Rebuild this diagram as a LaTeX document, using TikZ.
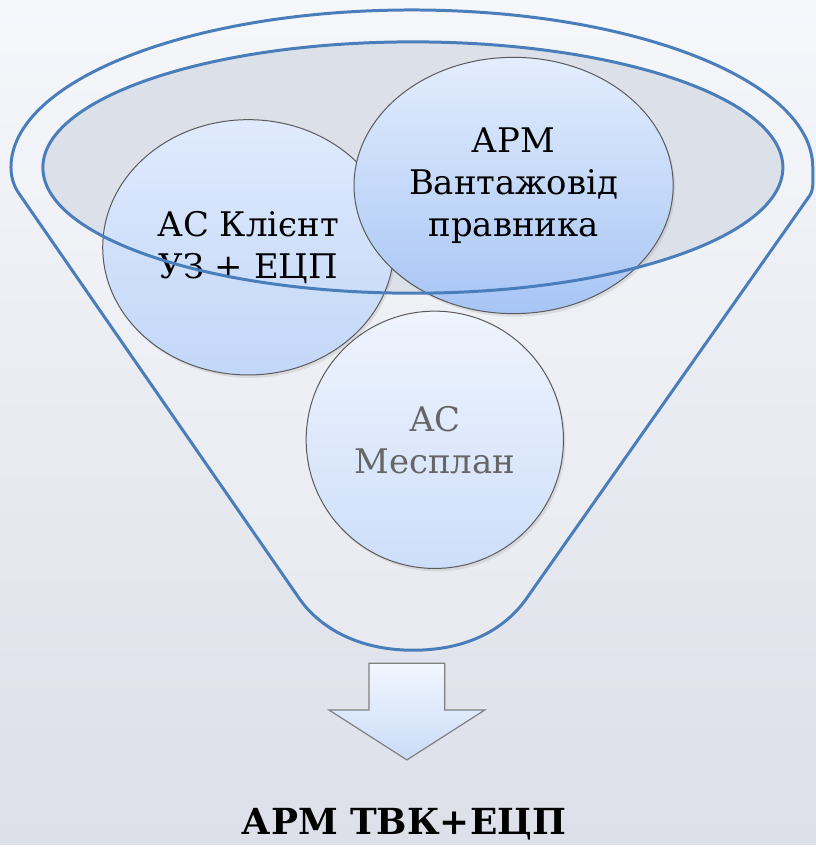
\documentclass[tikz,border=0pt]{standalone}
\usepackage{fontspec}
\newfontfamily\timesface{DejaVu Serif}
\usepackage{xcolor}
\usepackage{tikz}
\usetikzlibrary{shapes.geometric,shadows}

\definecolor{funnelblue}{HTML}{4A7EBB}
\definecolor{bgtop}{HTML}{F5F7FB}
\definecolor{bgbot}{HTML}{DDDFE9}
\definecolor{bodytop}{HTML}{F5F6FA}
\definecolor{bodybot}{HTML}{E8EAF0}
\definecolor{rimfill}{HTML}{DCE0E9}
\definecolor{bubbleline}{HTML}{5A5A5A}
\definecolor{greytext}{HTML}{666666}
\definecolor{cargotop}{HTML}{E3EDFD}
\definecolor{cargobot}{HTML}{A7C5F5}
\definecolor{clienttop}{HTML}{DFEAFD}
\definecolor{clientbot}{HTML}{C3D7F8}
\definecolor{mesplantop}{HTML}{EFF4FD}
\definecolor{mesplanbot}{HTML}{CDDEFA}
\definecolor{arrowtop}{HTML}{F2F6FE}
\definecolor{arrowbot}{HTML}{CADCF8}

\begin{document}
\begin{tikzpicture}[
        x=0.5pt,y=0.5pt,
        funnel line/.style={draw=funnelblue,line width=1.5pt},
        bubble/.style={ellipse,draw=bubbleline,line width=0.5pt,align=center,inner sep=0pt,
            font=\timesface\fontsize{17}{21}\selectfont,
            drop shadow={opacity=0.18,shadow xshift=1pt,shadow yshift=-1.5pt}},
        downarrow/.style={draw=gray,line width=0.6pt,top color=arrowtop,bottom color=arrowbot}
    ]
        % background, also fixes the page size
        \fill[top color=bgtop,bottom color=bgbot] (0,0) rectangle (818,847);

        % funnel body
        \path[funnel line,top color=bodytop,bottom color=bodybot]
            (11,679) .. controls (11,668) and (14.8,659) .. (19,653)
            -- (300,247) .. controls (320.8,217) and (360,195) .. (414,195)
            .. controls (470,195) and (506.9,217) .. (528,247)
            -- (812,651) .. controls (816.2,657) and (815,668) .. (815,679)
            arc[start angle=0,end angle=180,x radius=402,y radius=158] -- cycle;
        \fill[rimfill] (414,679) ellipse [x radius=371,y radius=126];

        % the three systems
        \node[bubble,minimum width=129pt,minimum height=129pt,text=greytext,
            top color=mesplantop,bottom color=mesplanbot] (mesplan) at (436,406) {АС\\Месплан};
        \node[bubble,minimum width=146pt,minimum height=128pt,
            top color=clienttop,bottom color=clientbot] (client) at (249,599) {АС Клієнт\\УЗ + ЕЦП};
        \node[bubble,minimum width=160pt,minimum height=128.5pt,
            top color=cargotop,bottom color=cargobot] (cargo) at (515,661) {АРМ\\Вантажовід\\правника};

        % rim line over the bubbles
        \draw[funnel line] (414,679) ellipse [x radius=371,y radius=126];

        % output
        \draw[downarrow] (370,182) -- (446,182) -- (446,135) -- (486,135) -- (408,85)
            -- (330,135) -- (370,135) -- cycle;
        \node[anchor=base,font=\timesface\fontsize{18}{24}\selectfont\bfseries] (result) at (405,10) {АРМ ТВК+ЕЦП};
    \end{tikzpicture}
\end{document}
